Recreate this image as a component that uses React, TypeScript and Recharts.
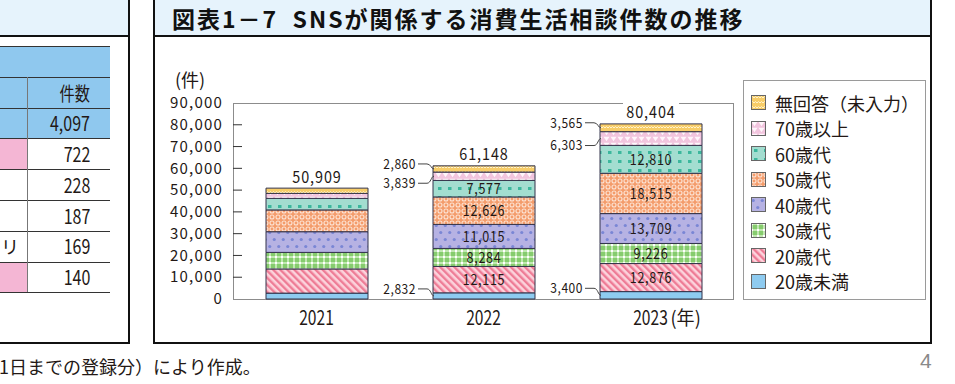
import React from "react";
import { BarChart, Bar, XAxis, YAxis, LabelList } from "recharts";

const years = ["2021", "2022", "2023"];
const under20 = [2700, 2832, 3400];
const age20s = [11100, 12115, 12876];
const age30s = [7600, 8284, 9226];
const age40s = [9500, 11015, 13709];
const age50s = [10000, 12626, 18515];
const age60s = [5300, 7577, 12810];
const over70 = [2300, 3839, 6303];
const noAnswer = [2409, 2860, 3565];
const yTicks = [0, 10000, 20000, 30000, 40000, 50000, 60000, 70000, 80000, 90000];

const tableRows = ["722", "228", "187", "169", "140"];

const JP = "'Noto Sans CJK JP', sans-serif";
const INK = "#231815";

// label: "leader" = outside with a bent line, "center" = inside the segment
const series = [
  { key: "under20", name: "20歳未満", values: under20, fill: "#8ecbf0", label: "leader", dy: -7 },
  { key: "age20s", name: "20歳代", values: age20s, fill: "url(#p20s)", label: "center", dy: 0 },
  { key: "age30s", name: "30歳代", values: age30s, fill: "url(#p30s)", label: "center", dy: 0 },
  { key: "age40s", name: "40歳代", values: age40s, fill: "url(#p40s)", label: "center", dy: 0 },
  { key: "age50s", name: "50歳代", values: age50s, fill: "url(#p50s)", label: "center", dy: 0 },
  { key: "age60s", name: "60歳代", values: age60s, fill: "url(#p60s)", label: "center", dy: 0 },
  { key: "over70", name: "70歳以上", values: over70, fill: "url(#p70s)", label: "leader", dy: 7 },
  { key: "noAnswer", name: "無回答（未入力）", values: noAnswer, fill: "url(#pNo)", label: "leader", dy: -5 },
];

const data = years.map((year, i) => {
  const row: any = { year };
  let total = 0;
  series.forEach((s) => {
    row[s.key] = s.values[i];
    total += s.values[i];
  });
  row.total = total;
  return row;
});

const fmt = (v: number) => Number(v).toLocaleString("en-US");

// condensed-looking text: the reference uses a narrow face, so squeeze horizontally
const SText = ({ x, y, sx, size, anchor, children, spacing }: any) => (
  <text
    transform={`translate(${x},${y}) scale(${sx},1)`}
    dy="0.35em"
    textAnchor={anchor}
    fontFamily={JP}
    fontSize={size}
    letterSpacing={spacing}
    fill={INK}
  >
    {children}
  </text>
);

const YTick = (props: any) => {
  const { x, y, payload } = props;
  const v = payload.value;
  return (
    <g>
      <text x={x} y={y} dy="0.35em" textAnchor="end" fontFamily={JP} fontSize={15} letterSpacing={1.2} fill={INK}>
        {fmt(v)}
      </text>
      {v > 0 && v < 90000 && <line x1={x + 10} x2={x + 19} y1={y} y2={y} stroke="#333" strokeWidth={1} />}
    </g>
  );
};

const XTick = (props: any) => {
  const { x, y, payload } = props;
  return (
    <g>
      <SText x={x} y={y + 19} sx={0.78} size={20} anchor="middle">
        {payload.value}
      </SText>
      {payload.value === years[years.length - 1] && (
        <SText x={x + 20} y={y + 19} sx={0.95} size={19} anchor="start">
          (年)
        </SText>
      )}
    </g>
  );
};

const boxOf = (p: any) => {
  const vb = p.viewBox && p.viewBox.width !== undefined ? p.viewBox : p;
  return { x: Number(vb.x), y: Number(vb.y), width: Number(vb.width), height: Number(vb.height) };
};

const centerLabel = (p: any) => {
  if (p.index === 0) return null;
  const { x, y, width, height } = boxOf(p);
  return (
    <SText x={x + width / 2} y={y + height / 2} sx={0.84} size={15} anchor="middle" spacing={0.8}>
      {fmt(p.value)}
    </SText>
  );
};

const leaderLabel = (dy: number) => (p: any) => {
  if (p.index === 0) return null;
  const { x, y, height } = boxOf(p);
  const cy = y + height / 2;
  const ly = cy + dy;
  return (
    <g>
      <path
        d={`M${x - 15},${ly} H${x - 6} C${x - 2},${ly} ${x - 2},${cy} ${x + 1},${cy}`}
        fill="none"
        stroke="#444"
        strokeWidth={1}
      />
      <SText x={x - 17} y={ly} sx={0.86} size={14} anchor="end" spacing={0.6}>
        {fmt(p.value)}
      </SText>
    </g>
  );
};

const totalLabel = (p: any) => {
  const { x, y, width } = boxOf(p);
  const cx = x + width / 2;
  const cy = y - 11;
  return (
    <g>
      <rect x={cx - 28} y={cy - 10} width={56} height={19} fill="#fff" />
      <SText x={cx} y={cy} sx={0.9} size={16} anchor="middle" spacing={1}>
        {fmt(p.value)}
      </SText>
    </g>
  );
};

const Patterns = () => (
  <svg width={0} height={0} style={{ position: "absolute" }}>
    <defs>
      <pattern id="p20s" width={5} height={5} patternUnits="userSpaceOnUse" patternTransform="rotate(-45)">
        <rect width={5} height={5} fill="#fcd3dc" />
        <rect width={2.4} height={5} fill="#ee7c96" />
      </pattern>
      <pattern id="p30s" width={6} height={6} patternUnits="userSpaceOnUse">
        <rect width={6} height={6} fill="#86cc6e" />
        <rect width={6} height={2} fill="#c2e8b2" />
        <rect width={2} height={6} fill="#c2e8b2" />
        <rect width={2} height={2} fill="#ffffff" />
      </pattern>
      <pattern id="p40s" width={9} height={14} patternUnits="userSpaceOnUse">
        <rect width={9} height={14} fill="#b6b2e3" />
        <circle cx={2.25} cy={3.5} r={1.6} fill="#7a86d5" />
        <circle cx={6.75} cy={10.5} r={1.6} fill="#7a86d5" />
      </pattern>
      <pattern id="p50s" width={6} height={6} patternUnits="userSpaceOnUse">
        <rect width={6} height={6} fill="#f49c6b" />
        <circle cx={3} cy={3} r={2} fill="none" stroke="#fde2d2" strokeWidth={1.1} />
      </pattern>
      <pattern id="p60s" width={10} height={9} patternUnits="userSpaceOnUse">
        <rect width={10} height={9} fill="#a3ddd0" />
        <rect x={3} y={3} width={3.5} height={3} fill="#3bb79d" />
      </pattern>
      <pattern id="p70s" width={7} height={6} patternUnits="userSpaceOnUse">
        <rect width={7} height={6} fill="#f2c5de" />
        <polygon points="0.5,0.8 6.5,0.8 3.5,5.2" fill="#fff6fb" />
      </pattern>
      <pattern id="pNo" width={6} height={5} patternUnits="userSpaceOnUse">
        <rect width={6} height={5} fill="#f8cd68" />
        <path d="M0,3 L1.5,1.5 L3,3 L4.5,1.5 L6,3" fill="none" stroke="#fff3cc" strokeWidth={1} />
      </pattern>
    </defs>
  </svg>
);

const abs = (s: React.CSSProperties): React.CSSProperties => ({ position: "absolute", ...s });
const squeeze: React.CSSProperties = { display: "inline-block", transform: "scaleX(0.8)", transformOrigin: "right center" };

export default function App() {
  const legendOrder = [...series].reverse();
  return (
    <div style={abs({ left: 0, top: 0, width: 955, height: 384, background: "#fff", overflow: "hidden", color: INK })}>
      <Patterns />

      {/* left panel (cut off) */}
      <div style={abs({ left: 0, top: 0, width: 128, height: 35, background: "#e6f3fc" })} />
      <div style={abs({ left: 0, top: 35, width: 128, height: 2, background: "#111" })} />
      <div style={abs({ left: 128, top: 0, width: 2, height: 344, background: "#111" })} />
      <div style={abs({ left: 0, top: 342, width: 130, height: 2, background: "#111" })} />
      <div style={abs({ left: 0, top: 46, width: 110, height: 92, background: "#8fc8ee" })} />
      <div style={abs({ left: 0, top: 138, width: 27, height: 31, background: "#f4b6d4" })} />
      <div style={abs({ left: 0, top: 262, width: 27, height: 30, background: "#f4b6d4" })} />
      {[46, 77, 108, 138, 169, 200, 231, 262, 292].map((t) => (
        <div key={t} style={abs({ left: 0, top: t, width: 110, height: 1, background: "#333" })} />
      ))}
      <div style={abs({ left: 27, top: 77, width: 1, height: 215, background: "#777" })} />
      <div style={abs({ left: 28, top: 77, width: 62, height: 31, lineHeight: "31px", textAlign: "right", fontFamily: JP, fontSize: 19 })}>
        <span style={squeeze}>件数</span>
      </div>
      <div style={abs({ left: 28, top: 108, width: 62, height: 30, lineHeight: "30px", textAlign: "right", fontFamily: JP, fontSize: 20 })}>
        <span style={squeeze}>4,097</span>
      </div>
      {tableRows.map((r, i) => (
        <div key={r} style={abs({ left: 28, top: 138 + i * 30.8, width: 62, height: 31, lineHeight: "31px", textAlign: "right", fontFamily: JP, fontSize: 20 })}>
          <span style={squeeze}>{r}</span>
        </div>
      ))}
      <div style={abs({ left: 1, top: 231, height: 31, lineHeight: "31px", fontFamily: JP, fontSize: 18 })}>リ</div>

      {/* chart panel */}
      <div style={abs({ left: 155, top: 0, width: 775, height: 35, background: "#e6f3fc" })} />
      <div style={abs({ left: 155, top: 35, width: 775, height: 2, background: "#111" })} />
      <div style={abs({ left: 153, top: 0, width: 2, height: 344, background: "#111" })} />
      <div style={abs({ left: 930, top: 0, width: 2, height: 344, background: "#111" })} />
      <div style={abs({ left: 153, top: 342, width: 779, height: 2, background: "#111" })} />
      <div style={abs({ left: 172, top: 0, height: 36, lineHeight: "36px", fontFamily: JP, fontWeight: 700, fontSize: 23, letterSpacing: 2, whiteSpace: "pre", color: "#111" })}>
        図表1－7  SNSが関係する消費生活相談件数の推移
      </div>

      <div style={abs({ left: 175, top: 71, lineHeight: "17px", fontFamily: JP, fontSize: 18 })}>(件)</div>
      <div style={abs({ left: 233, top: 103, width: 501, height: 197, border: "1px solid #8c8c8c", boxSizing: "border-box" })} />

      <div style={abs({ left: 155, top: 40 })}>
        <BarChart width={600} height={300} data={data} margin={{ top: 63, right: 21, bottom: 11, left: 8 }} barSize={102}>
          <XAxis dataKey="year" axisLine={false} tickLine={false} tickSize={0} tickMargin={0} height={30} interval={0} tick={<XTick />} />
          <YAxis
            domain={[0, 90000]}
            ticks={yTicks}
            interval={0}
            axisLine={false}
            tickLine={false}
            tickSize={0}
            tickMargin={10}
            width={70}
            tick={<YTick />}
          />
          {series.map((s) => (
            <Bar key={s.key} dataKey={s.key} name={s.name} stackId="a" fill={s.fill} stroke="#33334a" strokeWidth={1} isAnimationActive={false}>
              {s.label === "center" && <LabelList dataKey={s.key} content={centerLabel} />}
              {s.label === "leader" && <LabelList dataKey={s.key} content={leaderLabel(s.dy)} />}
              {s.key === "noAnswer" && <LabelList dataKey="total" content={totalLabel} />}
            </Bar>
          ))}
        </BarChart>
      </div>

      {/* legend */}
      <div style={abs({ left: 743, top: 80, width: 183, height: 220, border: "1px solid #9a9a9a", boxSizing: "border-box", background: "#fff", paddingTop: 9 })}>
        {legendOrder.map((s) => (
          <div key={s.key} style={{ height: 25.5, display: "flex", alignItems: "center", paddingLeft: 7 }}>
            <svg width={15} height={15} style={{ flex: "none" }}>
              <rect x={0.5} y={0.5} width={14} height={14} fill={s.fill} stroke="#666" />
            </svg>
            <span style={{ marginLeft: 9, fontFamily: JP, fontSize: 18, lineHeight: 1, whiteSpace: "nowrap" }}>{s.name}</span>
          </div>
        ))}
      </div>

      <div style={abs({ left: -1, top: 354, lineHeight: "24px", fontFamily: JP, fontSize: 18, whiteSpace: "nowrap" })}>
        1日までの登録分）により作成。
      </div>
      <div style={abs({ left: 920, top: 349, lineHeight: "24px", fontFamily: "'Liberation Sans', sans-serif", fontSize: 21, color: "#8a8a8a" })}>
        4
      </div>
    </div>
  );
}
